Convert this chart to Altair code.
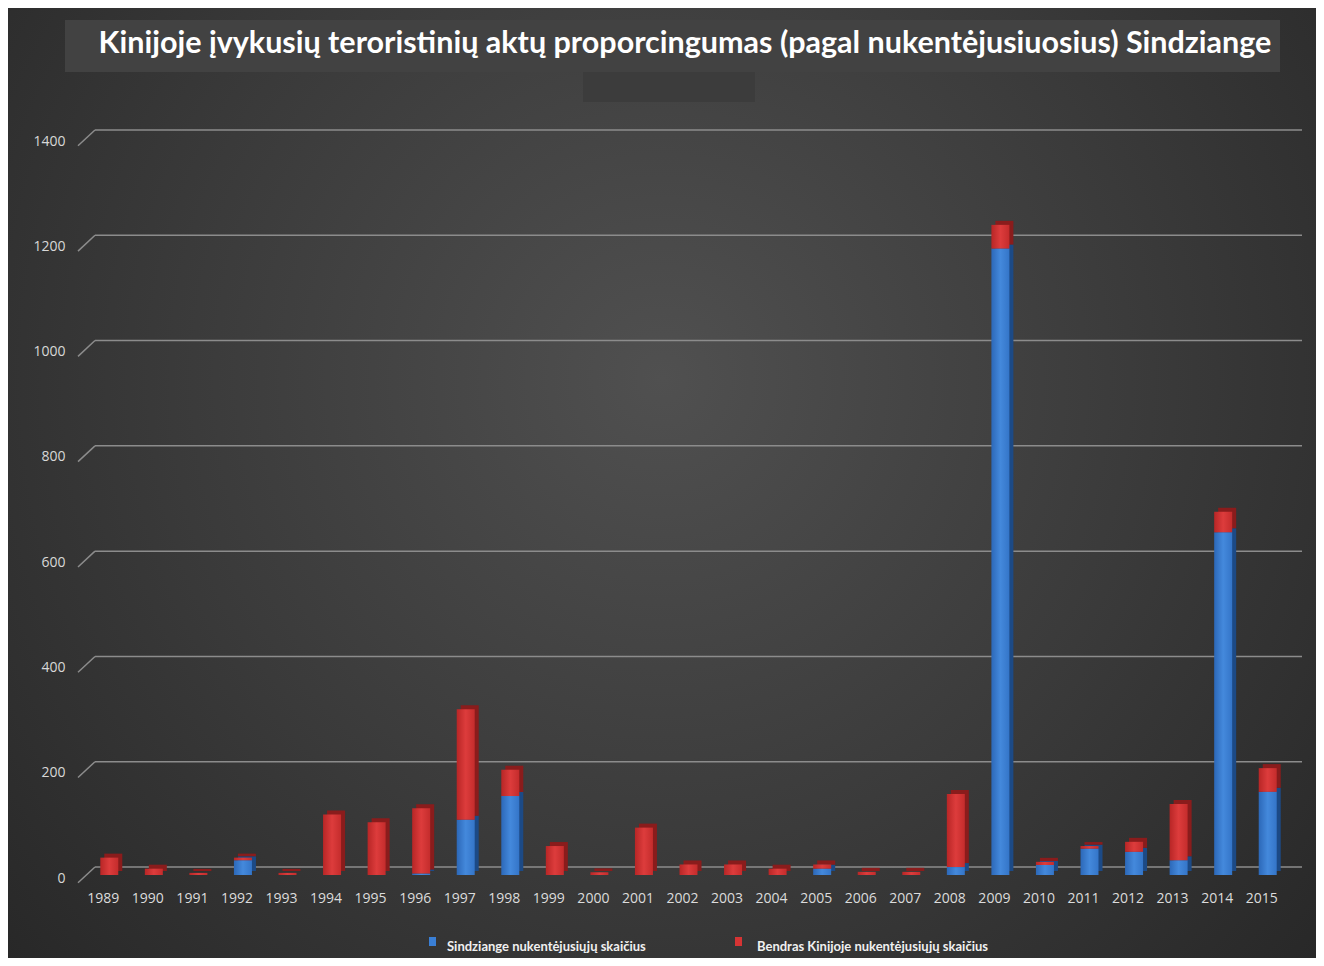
import altair as alt
import pandas as pd

# ---- data ----
years = [str(y) for y in range(1989, 2016)]
xinjiang = [0, 0, 0, 28, 0, 0, 0, 3, 105, 150, 0, 0, 0, 0, 0, 0, 12, 0, 0, 15, 1190, 19, 50, 44, 28, 651, 158]
china_total = [33, 12, 4, 5, 4, 115, 100, 124, 210, 50, 55, 5, 90, 20, 20, 12, 8, 6, 6, 139, 45, 6, 5, 19, 107, 39, 45]
y_ticks = [0, 200, 400, 600, 800, 1000, 1200, 1400]
title_text = "Kinijoje įvykusių teroristinių aktų proporcingumas (pagal nukentėjusiuosius) Sindziange"
legend_labels = ["Sindziange nukentėjusiųjų skaičius", "Bendras Kinijoje nukentėjusiųjų skaičius"]
legend_colors = ["#3a7fd5", "#d63434"]

df = pd.DataFrame({"year": years, "blue": xinjiang, "red": china_total})
ticks_df = pd.DataFrame({"v": y_ticks})
one = pd.DataFrame({"a": [0]})

W, H = 1203, 737
yscale = alt.Scale(domain=[0, 1400], nice=False, zero=False)
xscale = alt.Scale(paddingInner=0, paddingOuter=0)

yaxis = alt.Axis(values=y_ticks, format="d", title=None, grid=False, domain=False, ticks=False,
                 labelPadding=16, labelOffset=11, labelFont="Open Sans", labelFontSize=14,
                 labelColor="#d8d8d8", zindex=2)
xaxis = alt.Axis(title=None, labelAngle=0, domain=False, ticks=False, labelPadding=24,
                 labelFont="Open Sans", labelFontSize=14, labelColor="#dcdcdc", zindex=2)


def grad(c0, c1, c2):
    return alt.LinearGradient(
        gradient="linear", x1=0, y1=0, x2=1, y2=0,
        stops=[alt.GradientStop(color=c0, offset=0),
               alt.GradientStop(color=c1, offset=0.5),
               alt.GradientStop(color=c2, offset=1)])


bg = alt.Chart(one).mark_rect(
    color=alt.RadialGradient(
        gradient="radial", x1=0.5, y1=0.42, x2=0.5, y2=0.42, r1=0, r2=0.75,
        stops=[alt.GradientStop(color="#505050", offset=0),
               alt.GradientStop(color="#3a3a3a", offset=0.5),
               alt.GradientStop(color="#232323", offset=1)])
).encode(x=alt.value(-73), x2=alt.value(1235), y=alt.value(-122), y2=alt.value(828))

title_box = alt.Chart(one).mark_rect(color="#424242").encode(
    x=alt.value(-16), x2=alt.value(1199), y=alt.value(-110), y2=alt.value(-58))
small_box = alt.Chart(one).mark_rect(color="#3c3c3c").encode(
    x=alt.value(502), x2=alt.value(674), y=alt.value(-58), y2=alt.value(-28))

title = alt.Chart(pd.DataFrame({"t": [title_text]})).mark_text(
    font="Lato", fontWeight="bold", fontSize=30.5, color="#ffffff",
    align="center", baseline="alphabetic"
).encode(text="t:N", x=alt.value(604), y=alt.value(-77))

grid = alt.Chart(ticks_df).mark_rule(color="#8c8c8c", strokeWidth=1.5).encode(
    y=alt.Y("v:Q", scale=yscale, axis=yaxis),
    x=alt.value(14), x2=alt.value(1221))

diag = alt.Chart(ticks_df).transform_calculate(v2="datum.v - 30").mark_rule(
    color="#8c8c8c", strokeWidth=1.5).encode(
    y=alt.Y("v2:Q", scale=yscale, axis=yaxis),
    y2="v:Q",
    x=alt.value(-3), x2=alt.value(14))

xenc = alt.X("year:O", scale=xscale, axis=xaxis)

base = alt.Chart(df).transform_calculate(total="datum.blue + datum.red")

blue_depth = base.mark_bar(size=18, xOffset=10, yOffset=4, y2Offset=4, color="#1c4a86").encode(
    x=xenc, y=alt.Y("blue:Q", scale=yscale, axis=yaxis), y2=alt.datum(0))
red_depth = base.mark_bar(size=18, xOffset=10, yOffset=4, y2Offset=4, color="#8a1c1c").encode(
    x=xenc, y=alt.Y("total:Q", scale=yscale, axis=yaxis), y2="blue:Q")
blue_front = base.mark_bar(size=18, xOffset=6, yOffset=8, y2Offset=8,
                           color=grad("#2c68b8", "#4489dc", "#3475c8")).encode(
    x=xenc, y=alt.Y("blue:Q", scale=yscale, axis=yaxis), y2=alt.datum(0))
red_front = base.mark_bar(size=18, xOffset=6, yOffset=8, y2Offset=8,
                          color=grad("#b82626", "#dd3c3c", "#c42c2c")).encode(
    x=xenc, y=alt.Y("total:Q", scale=yscale, axis=yaxis), y2="blue:Q")

legend_layers = []
marker_x = [351, 657]
text_x = [366, 676]
for lab, col, mx, tx in zip(legend_labels, legend_colors, marker_x, text_x):
    ldf = pd.DataFrame({"label": [lab]})
    legend_layers.append(alt.Chart(ldf).mark_rect(color=col).encode(
        x=alt.value(mx - 3), x2=alt.value(mx + 4), y=alt.value(807), y2=alt.value(816)))
    legend_layers.append(alt.Chart(ldf).mark_text(
        font="Lato", fontWeight="bold", fontSize=13, color="#f0f0f0",
        align="left", baseline="middle").encode(
        x=alt.value(tx), y=alt.value(817), text="label:N"))

chart = alt.layer(
    bg, title_box, small_box, title, grid, diag,
    blue_depth, red_depth, blue_front, red_front, *legend_layers
).properties(
    width=W, height=H,
    autosize=alt.AutoSizeParams(type="none"),
    padding={"left": 73, "top": 122, "right": 32, "bottom": 91},
    background="#2a2a2a",
).configure_view(strokeWidth=0)

chart.save("out.html", embed_options={"renderer": "svg", "actions": False})
